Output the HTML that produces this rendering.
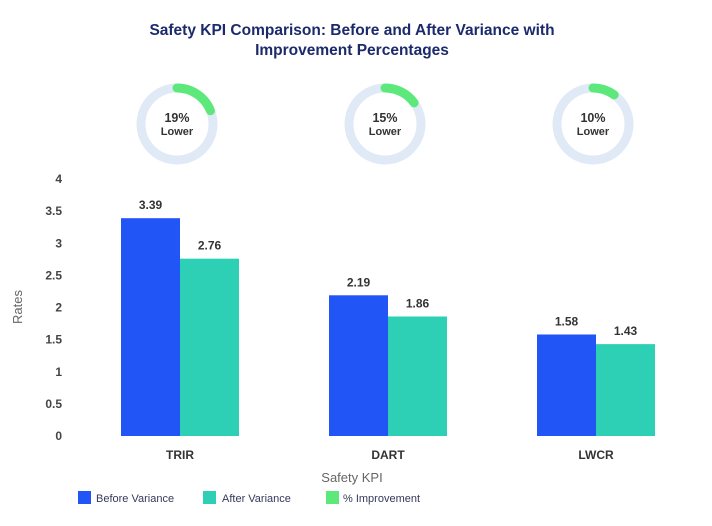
<!DOCTYPE html>
<html><head><meta charset="utf-8"><style>
body{margin:0;background:#fff;font-family:"Liberation Sans",sans-serif}
</style></head><body>
<svg id="c" width="712" height="521" xmlns="http://www.w3.org/2000/svg">
<text x="352" y="35" text-anchor="middle" font-size="15.5" font-weight="bold" fill="#1b2a6b">Safety KPI Comparison: Before and After Variance with</text>
<text x="352" y="55" text-anchor="middle" font-size="15.5" font-weight="bold" fill="#1b2a6b">Improvement Percentages</text>
<g id="plot"></g>
<text x="352" y="482" text-anchor="middle" font-size="13" fill="#666">Safety KPI</text>
<text transform="translate(22,307) rotate(-90)" text-anchor="middle" font-size="13" fill="#666">Rates</text>
<g>
<rect x="78" y="491" width="13" height="13" fill="#2255f5"/>
<text x="96" y="502" font-size="11" fill="#333a5a">Before Variance</text>
<rect x="203" y="491" width="13" height="13" fill="#2dd0b4"/>
<text x="222" y="502" font-size="11" fill="#333a5a">After Variance</text>
<rect x="326" y="491" width="13" height="13" fill="#5ce87a"/>
<text x="343" y="502" font-size="11" fill="#333a5a">% Improvement</text>
</g>
</svg>
<script>
const categories=["TRIR","DART","LWCR"];
const before=[3.39,2.19,1.58];
const after=[2.76,1.86,1.43];
const improvement=[19,15,10];
const yTicks=[0,0.5,1,1.5,2,2.5,3,3.5,4];
const NS="http://www.w3.org/2000/svg";
const g=document.getElementById("plot");
const x0=76,band=208,y0=436,yMax=4,yH=257;
const y=v=>y0-v/yMax*yH;
const cx=i=>x0+band*i+band/2;
function mk(t,a,txt){const e=document.createElementNS(NS,t);for(const k in a)e.setAttribute(k,a[k]);if(txt!=null)e.textContent=txt;g.appendChild(e);return e;}
yTicks.forEach(t=>{
 const e=mk("text",{x:62,y:y(t)+4,"text-anchor":"end","font-size":12,"font-weight":"bold",fill:"#444"},String(t));
 
 
});
categories.forEach((c,i)=>{
 const bw=59;
 const b=mk("rect",{x:cx(i)-bw,y:y(before[i]),width:bw,height:y0-y(before[i]),fill:"#2255f5"});
 
 
 const a=mk("rect",{x:cx(i),y:y(after[i]),width:bw,height:y0-y(after[i]),fill:"#2dd0b4"});
 
 
 const l1=mk("text",{x:cx(i)-bw/2,y:y(before[i])-9,"text-anchor":"middle","font-size":12,"font-weight":"bold",fill:"#333"},before[i].toFixed(2));
 
 
 const l2=mk("text",{x:cx(i)+bw/2,y:y(after[i])-9,"text-anchor":"middle","font-size":12,"font-weight":"bold",fill:"#333"},after[i].toFixed(2));
 
 
 const xl=mk("text",{x:cx(i),y:459,"text-anchor":"middle","font-size":12,"font-weight":"bold",fill:"#333"},c);
 
 
 // donut
 const dx=cx(i)-3,dy=124,r=36;
 const ring=mk("circle",{cx:dx,cy:dy,r:r,fill:"none",stroke:"#e0eaf6","stroke-width":9});
 
 
 const ang=improvement[i]/100*2*Math.PI;
 const ex=dx+r*Math.sin(ang),ey=dy-r*Math.cos(ang);
 const arc=mk("path",{d:`M${dx},${dy-r} A${r},${r} 0 0 1 ${ex},${ey}`,fill:"none",stroke:"#5ce87a","stroke-width":9,"stroke-linecap":"round"});
 
 
 const p=mk("text",{x:dx,y:dy-2,"text-anchor":"middle","font-size":12.5,"font-weight":"bold",fill:"#333"},improvement[i]+"%");
 
 
 const lw=mk("text",{x:dx,y:dy+11,"text-anchor":"middle","font-size":11,"font-weight":"bold",fill:"#333"},"Lower");
 
 
});
</script>
</body></html>
